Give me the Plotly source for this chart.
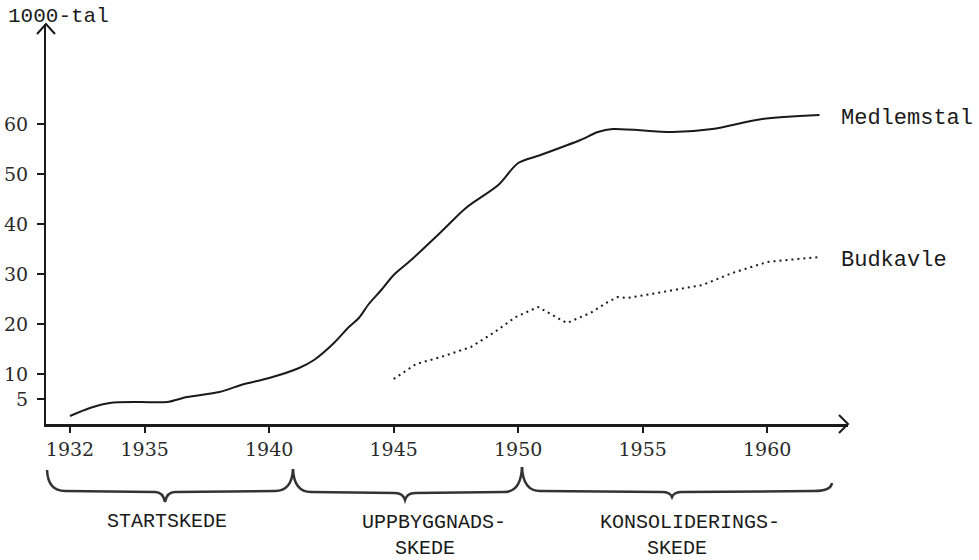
import plotly.graph_objects as go

# ---- data ----
medlem_years = [1932.0, 1932.8, 1933.6, 1934.8, 1935.9, 1936.7, 1938.0, 1939.0, 1940.0,
                1941.2, 1941.8, 1942.6, 1943.2, 1943.6, 1944.0, 1944.5, 1945.0, 1945.7,
                1946.9, 1947.9, 1949.2, 1950.0, 1950.9, 1952.5, 1953.2, 1953.8, 1956.2,
                1957.8, 1959.8, 1962.1]
medlem_values = [1.6, 3.2, 4.2, 4.4, 4.4, 5.4, 6.4, 8.0, 9.2,
                 11.2, 12.8, 16.2, 19.4, 21.2, 24.0, 26.8, 29.8, 32.8,
                 38.4, 43.2, 47.8, 52.2, 53.8, 56.8, 58.4, 59.0, 58.4,
                 59.0, 61.0, 61.8]

budkavle_years = [1945.0, 1945.9, 1946.9, 1948.1, 1949.0, 1949.9, 1950.8, 1951.95, 1952.9,
                  1953.6, 1954.0, 1954.4, 1955.8, 1957.4, 1958.6, 1960.0, 1960.8, 1962.1]
budkavle_values = [9.0, 12.0, 13.4, 15.4, 18.2, 21.4, 23.4, 20.2, 22.2,
                   24.4, 25.4, 25.2, 26.4, 27.8, 30.2, 32.4, 32.8, 33.4]

x_ticks = [1932, 1935, 1940, 1945, 1950, 1955, 1960]
y_ticks = [5, 10, 20, 30, 40, 50, 60]
y_label = "1000-tal"
series_names = ["Medlemstal", "Budkavle"]
phase_labels = ["STARTSKEDE", "UPPBYGGNADS-", "SKEDE", "KONSOLIDERINGS-", "SKEDE"]

# ---- layout geometry (pixels) ----
W, H = 979, 560
L, R, T, B = 46, 848, 24, 424
PW, PH = R - L, B - T


def px(x):
    return (x - L) / PW


def py(y):
    return (B - y) / PH


def pt(x, y):
    return f"{px(x):.5f},{py(y):.5f}"


INK = "#1a1a1a"
MONO = "Liberation Mono, Courier New, monospace"
SERIF = "DejaVu Serif, Liberation Serif, serif"

fig = go.Figure()
fig.add_trace(go.Scatter(
    x=medlem_years, y=medlem_values, mode="lines", name=series_names[0],
    line=dict(color=INK, width=2, shape="spline", smoothing=0.8),
    showlegend=False, hoverinfo="skip"))
fig.add_trace(go.Scatter(
    x=budkavle_years, y=budkavle_values, mode="lines", name=series_names[1],
    line=dict(color=INK, width=2, dash="2px,4px"),
    showlegend=False, hoverinfo="skip"))

# end labels next to each series
for name, xs, ys in [(series_names[0], medlem_years, medlem_values),
                     (series_names[1], budkavle_years, budkavle_values)]:
    fig.add_annotation(x=xs[-1], y=ys[-1], xref="x", yref="y", text=name,
                       showarrow=False, xanchor="left", yanchor="middle",
                       xshift=20, yshift=-3,
                       font=dict(family=MONO, size=22, color=INK))

# y-axis unit label
fig.add_annotation(x=px(6), y=py(17), xref="paper", yref="paper", text=y_label,
                   showarrow=False, xanchor="left", yanchor="middle",
                   font=dict(family=MONO, size=21, color=INK))

# phase labels
for txt, cx, cy in zip(phase_labels, [167, 434, 425, 690, 677], [521, 522, 548, 522, 548]):
    fig.add_annotation(x=px(cx), y=py(cy), xref="paper", yref="paper", text=txt,
                       showarrow=False, xanchor="center", yanchor="middle",
                       font=dict(family=MONO, size=20, color=INK))

shapes = []
# axis arrowheads (open chevrons)
shapes.append(dict(type="path", xref="paper", yref="paper",
                   path=f"M {pt(L-9, T+10)} L {pt(L, T)} L {pt(L+9, T+10)}",
                   line=dict(color=INK, width=2)))
shapes.append(dict(type="path", xref="paper", yref="paper",
                   path=f"M {pt(R-9, B-9)} L {pt(R, B)} L {pt(R-9, B+9)}",
                   line=dict(color=INK, width=2)))


def brace(x0, y0, xc, yd, x1, y1, yh):
    return (f"M {pt(x0, y0)} Q {pt(x0+1, yh)} {pt(x0+18, yh)} "
            f"L {pt(xc-10, yh+1)} Q {pt(xc-2, yh+1)} {pt(xc, yd)} "
            f"Q {pt(xc+2, yh+1)} {pt(xc+10, yh+1)} "
            f"L {pt(x1-18, yh)} Q {pt(x1-1, yh)} {pt(x1, y1)}")


for b in [(47, 470, 165, 502, 293, 469, 491),
          (293, 469, 405, 500, 522, 467, 492),
          (522, 467, 672, 497, 832, 483, 491)]:
    shapes.append(dict(type="path", xref="paper", yref="paper", path=brace(*b),
                       line=dict(color="#333333", width=2.5)))

x0 = 1932 - (70 - L) / 24.9
x1 = 1932 + (R - 70) / 24.9

fig.update_layout(
    width=W, height=H, autosize=False,
    margin=dict(l=L, r=W - R, t=T, b=H - B, pad=0, autoexpand=False),
    paper_bgcolor="white", plot_bgcolor="white",
    shapes=shapes,
    xaxis=dict(range=[x0, x1], tickvals=x_ticks, ticktext=[str(v) for v in x_ticks],
               automargin=False,
               showgrid=False, zeroline=False, showline=True, linecolor=INK, linewidth=2.5,
               ticks="outside", ticklen=6, tickwidth=1.5, tickcolor=INK,
               tickfont=dict(family=SERIF, size=19, color="#2a2a2a"), fixedrange=True),
    yaxis=dict(range=[0, 80], tickvals=y_ticks, ticktext=[str(v) for v in y_ticks],
               automargin=False,
               showgrid=False, zeroline=False, showline=True, linecolor=INK, linewidth=2,
               ticks="outside", ticklen=7, tickwidth=1.5, tickcolor=INK,
               ticklabelstandoff=5,
               tickfont=dict(family=SERIF, size=19, color="#2a2a2a"), fixedrange=True),
)

fig.write_html("out.html", config={"displayModeBar": False},
               post_script="document.body.style.margin='0';document.body.style.overflow='hidden';")
